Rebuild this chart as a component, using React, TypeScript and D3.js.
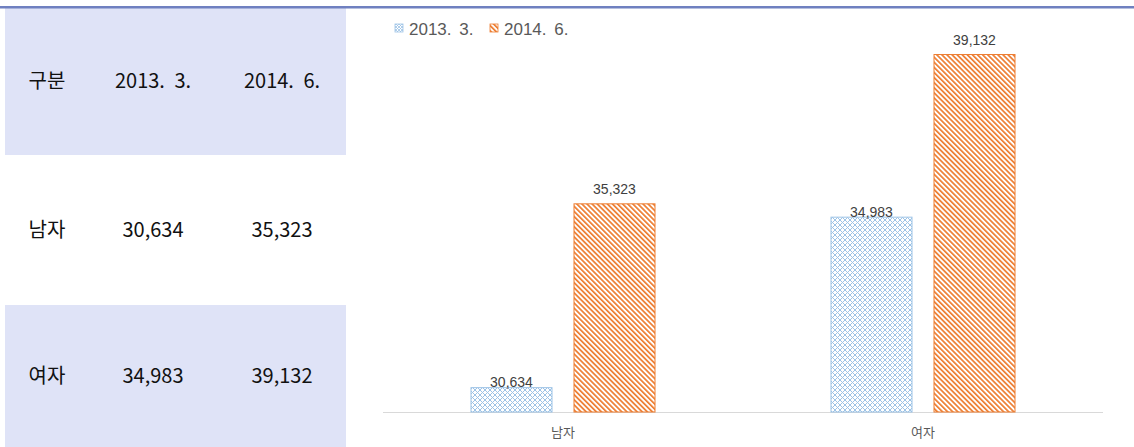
import React from "react";
import * as d3 from "d3";

const categories = ["남자", "여자"];
const seriesNames = ["2013. 3.", "2014. 6."];
const values2013 = [30634, 34983];
const values2014 = [35323, 39132];
const tableHeader = ["구분", "2013. 3.", "2014. 6."];

const W = 1134;
const H = 447;

export default function App() {
  const fmt = d3.format(",");
  const x0 = d3.scaleBand<string>().domain(categories).range([383, 1103]);
  const x1 = d3.scaleBand<string>().domain(seriesNames).range([0, 185]).paddingInner(0.204);
  const y = d3.scaleLinear().domain([30000, 40000]).range([412, 20]);
  const series = [
    { name: seriesNames[0], values: values2013, fill: "url(#crossBlue)", stroke: "#9dc3e6", labelDy: 0 },
    { name: seriesNames[1], values: values2014, fill: "url(#stripeOrange)", stroke: "#ed7d31", labelDy: -9 },
  ];
  const rows = [
    { cells: tableHeader, bg: "#dfe3f7", top: 7, bottom: 155 },
    { cells: [categories[0], fmt(values2013[0]), fmt(values2014[0])], bg: "#ffffff", top: 155, bottom: 305 },
    { cells: [categories[1], fmt(values2013[1]), fmt(values2014[1])], bg: "#dfe3f7", top: 305, bottom: 447 },
  ];
  const colX = [47, 153, 282];
  const chartFont = "'Liberation Sans Narrow', 'Arial Narrow', 'Liberation Sans', Arial, sans-serif";
  return (
    <svg width={W} height={H} style={{ position: "absolute", left: 0, top: 0, background: "#fff" }}>
      <defs>
        <pattern id="crossBlue" patternUnits="userSpaceOnUse" width="5" height="5">
          <rect width="5" height="5" fill="#fff" />
          <path d="M0,0 L5,5 M5,0 L0,5" stroke="#9dc3e6" strokeWidth="1" />
        </pattern>
        <pattern id="stripeOrange" patternUnits="userSpaceOnUse" width="3.6" height="3.6" patternTransform="rotate(-45)">
          <rect width="3.6" height="3.6" fill="#fff" />
          <rect x="0" y="0" width="1.7" height="3.6" fill="#ed7d31" />
        </pattern>
        <pattern id="crossBlueSmall" patternUnits="userSpaceOnUse" width="3" height="3">
          <rect width="3" height="3" fill="#fff" />
          <path d="M0,0 L3,3 M3,0 L0,3" stroke="#9dc3e6" strokeWidth="0.8" />
        </pattern>
      </defs>
      {rows.map((r, i) => (
        <g key={i}>
          <rect x={5} y={r.top} width={341} height={r.bottom - r.top} fill={r.bg} />
          {r.cells.map((c, j) => (
            <text
              key={j}
              x={colX[j]}
              y={(r.top + r.bottom) / 2 + 7}
              textAnchor="middle"
              fontSize={20}
              wordSpacing={5}
              fontFamily="'Noto Sans CJK KR', 'Noto Sans', sans-serif"
              fill="#111"
            >
              {c}
            </text>
          ))}
        </g>
      ))}
      <rect x={0} y={6} width={W} height={2.5} fill="#6f80c0" />
      {/* legend */}
      <g fontFamily={chartFont} fontSize={17} fill="#595959" wordSpacing={3}>
        <rect x={395} y={24} width={8} height={8} fill="url(#crossBlueSmall)" stroke="#9dc3e6" strokeWidth={0.8} />
        <text x={409} y={35}>{seriesNames[0]}</text>
        <rect x={490} y={24} width={8} height={8} fill="url(#stripeOrange)" stroke="#ed7d31" strokeWidth={0.8} />
        <text x={504} y={35}>{seriesNames[1]}</text>
      </g>
      <line x1={383} x2={1103} y1={412.5} y2={412.5} stroke="#d9d9d9" strokeWidth={1} />
      {series.map((s) =>
        categories.map((c, i) => {
          const bx = (x0(c) as number) + (x0.bandwidth() - 185) / 2 + (x1(s.name) as number);
          const by = y(s.values[i]);
          return (
            <g key={s.name + c}>
              <rect x={bx + 0.5} y={by + 0.5} width={x1.bandwidth() - 1} height={412 - by - 0.5} fill={s.fill} stroke={s.stroke} strokeWidth={1} />
              <text x={bx + x1.bandwidth() / 2} y={by + s.labelDy} textAnchor="middle" fontFamily={chartFont} fontSize={14} fill="#404040">
                {fmt(s.values[i])}
              </text>
            </g>
          );
        })
      )}
      {categories.map((c) => (
        <text key={c} x={(x0(c) as number) + x0.bandwidth() / 2} y={437} textAnchor="middle" fontFamily="'Noto Sans CJK KR', sans-serif" fontSize={13} fill="#595959">
          {c}
        </text>
      ))}
    </svg>
  );
}
